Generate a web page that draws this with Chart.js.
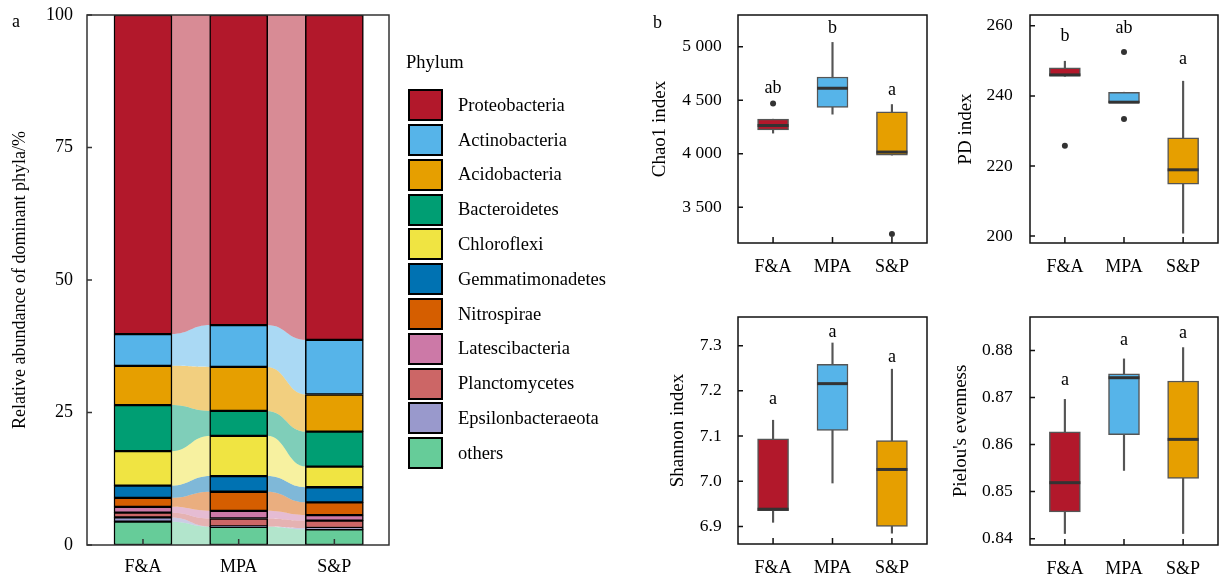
<!DOCTYPE html>
<html>
<head>
<meta charset="utf-8">
<script src="https://cdn.jsdelivr.net/npm/chart.js@4"></script>
<style>
  html, body { margin: 0; padding: 0; background: #fff; }
  #wrap { position: relative; width: 1220px; height: 580px; }
  canvas { position: absolute; }
  #phylaLegend { position: absolute; left: 406px; top: 51px; font: 18.5px "Liberation Serif", "Times New Roman", serif; color: #000; }
  .lg-title { height: 22px; line-height: 22px; margin-bottom: 14.9px; }
  .lg-row { display: flex; align-items: center; height: 34.8px; }
  .lg-sw { box-sizing: border-box; width: 35px; height: 32px; margin-left: 2px; border: 2px solid #111; }
  .lg-tx { margin-left: 15px; white-space: nowrap; }
</style>
</head>
<body>
<div id="wrap">
  <canvas id="phylaChart" width="640" height="580" style="left:0;top:0"></canvas>
  <div id="phylaLegend"></div>
  <canvas id="chaoChart" width="295" height="290" style="left:640px;top:0"></canvas>
  <canvas id="pdChart" width="285" height="290" style="left:935px;top:0"></canvas>
  <canvas id="shannonChart" width="295" height="290" style="left:640px;top:290px"></canvas>
  <canvas id="pielouChart" width="285" height="290" style="left:935px;top:290px"></canvas>
</div>
<script>
// 样地分组
const groups = ['F&A', 'MPA', 'S&P'];

// a: 优势菌门相对丰度 (%)，顺序 F&A, MPA, S&P
const phyla = ['Proteobacteria', 'Actinobacteria', 'Acidobacteria', 'Bacteroidetes', 'Chloroflexi',
  'Gemmatimonadetes', 'Nitrospirae', 'Latescibacteria', 'Planctomycetes', 'Epsilonbacteraeota', 'others'];
const phylaColors = ['#B2182B', '#56B4E9', '#E69F00', '#009E73', '#F0E442',
  '#0072B2', '#D55E00', '#CC79A7', '#CC6666', '#9999CC', '#66CC99'];
const proteobacteria = [60.2, 58.5, 61.3];
const actinobacteria = [6.0, 7.9, 10.3];
const acidobacteria = [7.4, 8.3, 7.0];
const bacteroidetes = [8.7, 4.7, 6.6];
const chloroflexi = [6.5, 7.6, 3.9];
const gemmatimonadetes = [2.3, 2.95, 2.85];
const nitrospirae = [1.7, 3.6, 2.4];
const latescibacteria = [1.1, 1.45, 1.05];
const planctomycetes = [0.9, 1.5, 1.4];
const epsilonbacteraeota = [0.8, 0.05, 0.25];
const others = [4.4, 3.45, 2.95];
const abundanceTicks = [0, 25, 50, 75, 100];

// b: 箱线图 [下须, Q1, 中位数, Q3, 上须]
const chaoLow = [4193, 4370, 3988];
const chaoQ1 = [4224, 4432, 3988];
const chaoMed = [4264, 4612, 4016];
const chaoQ3 = [4323, 4717, 4391];
const chaoHigh = [4323, 5040, 4460];
const chaoOut = [[4469], [], [3252]];
const chaoLetters = ['ab', 'b', 'a'];
const chaoLetterAt = [4615, 5172, 4596];
const chaoTicks = [3500, 4000, 4500, 5000];

const pdLow = [245.6, 238.1, 200.8];
const pdQ1 = [245.6, 238.1, 214.8];
const pdMed = [246.0, 238.2, 218.9];
const pdQ3 = [248.0, 241.05, 228.0];
const pdHigh = [249.9, 241.05, 244.2];
const pdOut = [[225.8], [252.5, 233.4], []];
const pdLetters = ['b', 'ab', 'a'];
const pdLetterAt = [256.9, 259.3, 250.6];
const pdTicks = [200, 220, 240, 260];

const shannonLow = [6.909, 6.996, 6.885];
const shannonQ1 = [6.935, 7.1125, 6.900];
const shannonMed = [6.938, 7.216, 7.026];
const shannonQ3 = [7.094, 7.259, 7.090];
const shannonHigh = [7.135, 7.306, 7.248];
const shannonOut = [[], [], []];
const shannonLetters = ['a', 'a', 'a'];
const shannonLetterAt = [7.181, 7.330, 7.275];
const shannonTicks = [6.9, 7.0, 7.1, 7.2, 7.3];

const pielouLow = [0.8411, 0.8545, 0.8411];
const pielouQ1 = [0.8457, 0.8621, 0.8528];
const pielouMed = [0.8519, 0.8742, 0.8611];
const pielouQ3 = [0.8627, 0.8750, 0.8735];
const pielouHigh = [0.8696, 0.8782, 0.8806];
const pielouOut = [[], [], []];
const pielouLetters = ['a', 'a', 'a'];
const pielouLetterAt = [0.87362, 0.88213, 0.8837];
const pielouTicks = [0.84, 0.85, 0.86, 0.87, 0.88];

const boxColors = ['#B2182B', '#56B4E9', '#E69F00'];

Chart.defaults.font.family = '"Liberation Serif", "Times New Roman", serif';
Chart.defaults.color = '#000';
Chart.defaults.animation = false;
Chart.defaults.events = [];
Chart.defaults.plugins.tooltip.enabled = false;

const serif = '"Liberation Serif", "Times New Roman", serif';

// 柱间的流带
const flowPlugin = {
  id: 'flows',
  beforeDatasetsDraw(chart) {
    const ctx = chart.ctx;
    ctx.save();
    chart.data.datasets.forEach((ds, i) => {
      const bars = chart.getDatasetMeta(i).data;
      ctx.fillStyle = ds.flowColor;
      for (let j = 0; j + 1 < bars.length; j++) {
        const a = bars[j], b = bars[j + 1];
        const x1 = a.x + a.width / 2 - 1, x2 = b.x - b.width / 2 + 1, xm = (x1 + x2) / 2;
        ctx.beginPath();
        ctx.moveTo(x1, a.y);
        ctx.bezierCurveTo(xm, a.y, xm, b.y, x2, b.y);
        ctx.lineTo(x2, b.base);
        ctx.bezierCurveTo(xm, b.base, xm, a.base, x1, a.base);
        ctx.closePath();
        ctx.fill();
      }
    });
    ctx.restore();
  }
};

// 边框和朝内的刻度
const framePlugin = {
  id: 'frame',
  afterDatasetsDraw(chart, args, opts) {
    const {ctx, chartArea: ca, scales: {x, y}} = chart;
    ctx.save();
    ctx.strokeStyle = opts.color || '#222';
    ctx.lineWidth = 1.5;
    ctx.strokeRect(ca.left, ca.top, ca.right - ca.left, ca.bottom - ca.top);
    ctx.beginPath();
    y.ticks.forEach(t => {
      const py = y.getPixelForValue(t.value);
      ctx.moveTo(ca.left, py);
      ctx.lineTo(ca.left + 5, py);
    });
    x.ticks.forEach(t => {
      const px = x.getPixelForValue(t.value);
      ctx.moveTo(px, ca.bottom);
      ctx.lineTo(px, ca.bottom - 6);
    });
    ctx.stroke();
    ctx.restore();
  }
};

// 显著性字母和面板编号
const notePlugin = {
  id: 'notes',
  afterDraw(chart, args, opts) {
    const {ctx, scales: {x, y}} = chart;
    ctx.save();
    ctx.fillStyle = '#000';
    ctx.font = '18px ' + serif;
    ctx.textAlign = 'center';
    ctx.textBaseline = 'middle';
    (opts.letters || []).forEach((t, i) => {
      ctx.fillText(t, x.getPixelForValue(i), y.getPixelForValue(opts.letterAt[i]));
    });
    if (opts.tag) {
      ctx.textAlign = 'left';
      ctx.textBaseline = 'alphabetic';
      ctx.fillText(opts.tag, opts.tagX, opts.tagY);
    }
    ctx.restore();
  }
};

// HTML 图例（用 Chart.js 自带的 generateLabels）
const htmlLegendPlugin = {
  id: 'htmlLegend',
  afterUpdate(chart, args, opts) {
    const box = document.getElementById(opts.containerID);
    box.innerHTML = '';
    const title = document.createElement('div');
    title.className = 'lg-title';
    title.textContent = opts.title;
    box.appendChild(title);
    const items = chart.options.plugins.legend.labels.generateLabels(chart).reverse();
    items.forEach(item => {
      const row = document.createElement('div');
      row.className = 'lg-row';
      const sw = document.createElement('span');
      sw.className = 'lg-sw';
      sw.style.background = item.fillStyle;
      sw.style.borderColor = item.strokeStyle;
      const tx = document.createElement('span');
      tx.className = 'lg-tx';
      tx.textContent = item.text;
      row.append(sw, tx);
      box.appendChild(row);
    });
  }
};

const groupTicks = s => { s.ticks = groups.map((g, i) => ({value: i})); };
const noPad = s => { s.paddingTop = s.paddingBottom = s.paddingLeft = s.paddingRight = 0; };

// a 图
const abundance = [proteobacteria, actinobacteria, acidobacteria, bacteroidetes, chloroflexi,
  gemmatimonadetes, nitrospirae, latescibacteria, planctomycetes, epsilonbacteraeota, others];
const stackOrder = phyla.map((p, k) => k).reverse();

new Chart(document.getElementById('phylaChart'), {
  type: 'bar',
  data: {
    datasets: stackOrder.map(k => ({
      label: phyla[k],
      data: abundance[k].map((v, i) => ({x: i, y: v})),
      backgroundColor: phylaColors[k],
      flowColor: phylaColors[k] + '80',
      borderColor: '#000',
      borderWidth: 1.5,
      borderSkipped: false,
      barThickness: 58
    }))
  },
  options: {
    responsive: false,
    layout: {autoPadding: false, padding: {top: 15, right: 251, left: 0, bottom: 0}},
    scales: {
      x: {
        type: 'linear', stacked: true, offset: false, min: -0.585, max: 2.571, bounds: 'data',
        grid: {display: false, drawTicks: false}, border: {display: false},
        afterBuildTicks: groupTicks,
        afterFit: s => { noPad(s); s.height = 35; },
        ticks: {font: {size: 18}, padding: 11.5, callback: v => groups[v]}
      },
      y: {
        stacked: true, min: 0, max: 100, bounds: 'data',
        grid: {display: false, drawTicks: false}, border: {display: false},
        afterBuildTicks: s => { s.ticks = abundanceTicks.map(v => ({value: v})); },
        afterFit: s => { noPad(s); s.width = 87; },
        ticks: {font: {size: 18}, padding: 14},
        title: {display: true, text: 'Relative abundance of dominant phyla/%', font: {size: 18}, padding: {top: 9.5, bottom: 0}}
      }
    },
    plugins: {
      legend: {display: false},
      htmlLegend: {containerID: 'phylaLegend', title: 'Phylum'},
      frame: {color: '#333'},
      notes: {tag: 'a', tagX: 12, tagY: 27}
    }
  },
  plugins: [flowPlugin, framePlugin, notePlugin, htmlLegendPlugin]
});

// b 图的箱线图
function boxChart(id, s) {
  return new Chart(document.getElementById(id), {
    type: 'bar',
    data: {
      datasets: [
        {
          type: 'line', showLine: false, order: 1,
          data: s.med.map((v, i) => ({x: i, y: v})),
          pointStyle: 'line', pointRadius: 15.5, pointBorderWidth: 3, pointBorderColor: '#333'
        },
        {
          type: 'line', showLine: false, order: 0,
          data: s.out.flatMap((arr, i) => arr.map(v => ({x: i, y: v}))),
          pointRadius: 3, pointBackgroundColor: '#333', pointBorderWidth: 0
        },
        {
          order: 2, grouped: false,
          data: s.q1.map((v, i) => ({x: i, y: [v, s.q3[i]]})),
          backgroundColor: boxColors, borderColor: '#555', borderWidth: 1.5,
          borderSkipped: false, barThickness: 31
        },
        {
          order: 3, grouped: false,
          data: s.low.map((v, i) => ({x: i, y: [v, s.high[i]]})),
          backgroundColor: '#555', borderWidth: 0, barThickness: 1.5
        }
      ]
    },
    options: {
      responsive: false,
      layout: {autoPadding: false, padding: {top: s.top, right: s.right, left: 0, bottom: 0}},
      scales: {
        x: {
          type: 'linear', offset: false, min: -0.59, max: 2.59, bounds: 'data',
          grid: {display: false, drawTicks: false}, border: {display: false},
          afterBuildTicks: groupTicks,
          afterFit: sc => { noPad(sc); sc.height = s.xh; },
          ticks: {font: {size: 18}, padding: 13, callback: v => groups[v]}
        },
        y: {
          min: s.min, max: s.max, bounds: 'data',
          grid: {display: false, drawTicks: false}, border: {display: false},
          afterBuildTicks: sc => { sc.ticks = s.ticks.map(v => ({value: v})); },
          afterFit: sc => { noPad(sc); sc.width = s.yw; },
          ticks: {font: {size: 17.5}, padding: s.tp, callback: s.fmt},
          title: {display: true, text: s.title, font: {size: 19}, padding: {top: s.tt, bottom: 0}}
        }
      },
      plugins: {
        legend: {display: false},
        frame: {color: '#111'},
        notes: {letters: s.letters, letterAt: s.letterAt, tag: s.tag, tagX: 13, tagY: 28}
      }
    },
    plugins: [framePlugin, notePlugin]
  });
}

const thousands = v => String(v).replace(/\B(?=(\d{3})+(?!\d))/g, ' ');

boxChart('chaoChart', {
  low: chaoLow, q1: chaoQ1, med: chaoMed, q3: chaoQ3, high: chaoHigh, out: chaoOut,
  letters: chaoLetters, letterAt: chaoLetterAt, ticks: chaoTicks, min: 3167, max: 5296,
  fmt: thousands, title: 'Chao1 index', tag: 'b',
  top: 15, right: 8, xh: 47, yw: 98, tp: 16.3, tt: 8.6
});
boxChart('pdChart', {
  low: pdLow, q1: pdQ1, med: pdMed, q3: pdQ3, high: pdHigh, out: pdOut,
  letters: pdLetters, letterAt: pdLetterAt, ticks: pdTicks, min: 198, max: 263.1,
  fmt: v => String(v), title: 'PD index',
  top: 15, right: 2, xh: 47, yw: 95, tp: 17.3, tt: 19.6
});
boxChart('shannonChart', {
  low: shannonLow, q1: shannonQ1, med: shannonMed, q3: shannonQ3, high: shannonHigh, out: shannonOut,
  letters: shannonLetters, letterAt: shannonLetterAt, ticks: shannonTicks, min: 6.861, max: 7.3635,
  fmt: v => v.toFixed(1), title: 'Shannon index',
  top: 27, right: 8, xh: 36, yw: 98, tp: 16.3, tt: 26.6
});
boxChart('pielouChart', {
  low: pielouLow, q1: pielouQ1, med: pielouMed, q3: pielouQ3, high: pielouHigh, out: pielouOut,
  letters: pielouLetters, letterAt: pielouLetterAt, ticks: pielouTicks, min: 0.83866, max: 0.8871,
  fmt: v => v.toFixed(2), title: "Pielou's evenness",
  top: 27, right: 2, xh: 35, yw: 95, tp: 17.3, tt: 14.6
});
</script>
</body>
</html>
